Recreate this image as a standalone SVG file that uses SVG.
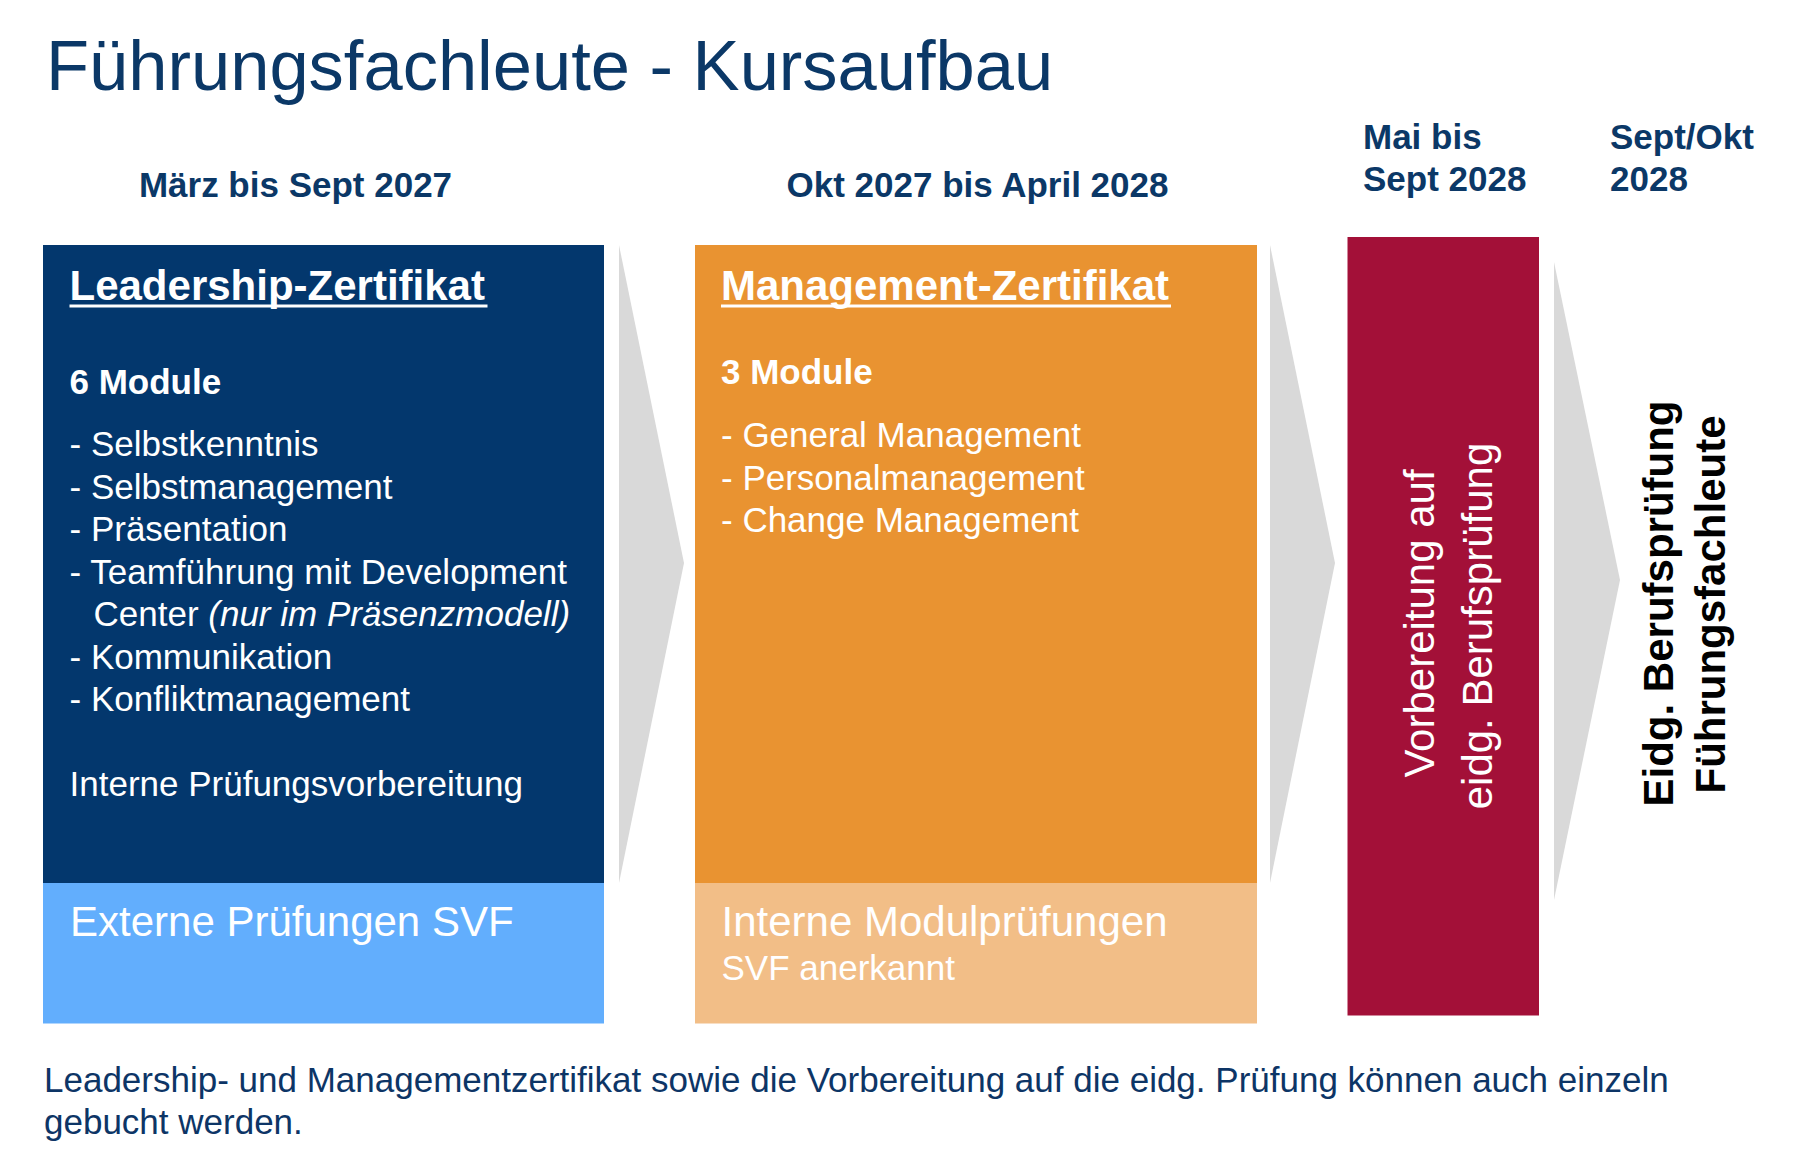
<svg xmlns="http://www.w3.org/2000/svg" width="1800" height="1164" viewBox="0 0 1800 1164">
  <style>
    text { font-family: "Liberation Sans", Arial, sans-serif; }
    .title { font-size: 70.5px; fill: #0B3867; }
    .hdr { font-size: 35px; font-weight: bold; fill: #0B3867; }
    .btitle { font-size: 42px; font-weight: bold; fill: #FFFFFF; }
    .sub { font-size: 35px; font-weight: bold; fill: #FFFFFF; }
    .item { font-size: 35px; fill: #FFFFFF; }
    .big { font-size: 42px; fill: #FFFFFF; }
    .vbold { font-size: 42px; font-weight: bold; fill: #000000; }
    .foot { font-size: 35px; fill: #0D3566; }
    .chev { fill: #D9D9D9; }
  </style>

  <rect x="0" y="0" width="1800" height="1164" fill="#FFFFFF"/>

  <g id="title">
    <text class="title" x="46" y="90">Führungsfachleute - Kursaufbau</text>
  </g>

  <g id="headers">
    <text class="hdr" x="295.5" y="197" text-anchor="middle">März bis Sept 2027</text>
    <text class="hdr" x="977.5" y="197" text-anchor="middle">Okt 2027 bis April 2028</text>
    <text class="hdr" x="1363" y="149">Mai bis</text>
    <text class="hdr" x="1363" y="191">Sept 2028</text>
    <text class="hdr" x="1610" y="149">Sept/Okt</text>
    <text class="hdr" x="1610" y="191">2028</text>
  </g>

  <g id="connectors">
    <polygon class="chev" points="619,245 684,563 619,883"/>
    <polygon class="chev" points="1270,245 1335,563 1270,883"/>
    <polygon class="chev" points="1554,262 1620,580 1554,900"/>
  </g>

  <g id="leadership">
    <rect x="43" y="245" width="561" height="638" fill="#03376D"/>
    <rect x="43" y="883" width="561" height="140.5" fill="#62AEFD"/>
    <text class="btitle" x="69.5" y="299.5">Leadership-Zertifikat</text>
    <rect x="69.5" y="304.5" width="418" height="3" fill="#FFFFFF"/>
    <text class="sub" x="69.5" y="393.5">6 Module</text>
    <text class="item" x="69.5" y="456">- Selbstkenntnis</text>
    <text class="item" x="69.5" y="498.5">- Selbstmanagement</text>
    <text class="item" x="69.5" y="541">- Präsentation</text>
    <text class="item" x="69.5" y="583.5">- Teamführung mit Development</text>
    <text class="item" x="93.5" y="626">Center <tspan font-style="italic">(nur im Präsenzmodell)</tspan></text>
    <text class="item" x="69.5" y="668.5">- Kommunikation</text>
    <text class="item" x="69.5" y="711">- Konfliktmanagement</text>
    <text class="item" x="69.5" y="796">Interne Prüfungsvorbereitung</text>
    <text class="big" x="70" y="936">Externe Prüfungen SVF</text>
  </g>

  <g id="management">
    <rect x="695" y="245" width="562" height="638" fill="#E99331"/>
    <rect x="695" y="883" width="562" height="140.5" fill="#F2BE87"/>
    <text class="btitle" x="721" y="299.5">Management-Zertifikat</text>
    <rect x="721" y="304.5" width="450" height="3" fill="#FFFFFF"/>
    <text class="sub" x="721" y="384">3 Module</text>
    <text class="item" x="721" y="447">- General Management</text>
    <text class="item" x="721" y="489.5">- Personalmanagement</text>
    <text class="item" x="721" y="532">- Change Management</text>
    <text class="big" x="721.5" y="936">Interne Modulprüfungen</text>
    <text class="item" x="721.5" y="980">SVF anerkannt</text>
  </g>

  <g id="vorbereitung">
    <rect x="1347.5" y="237" width="191.5" height="778.5" fill="#A31038"/>
    <text class="big" transform="translate(1433.5,623.5) rotate(-90)" text-anchor="middle">Vorbereitung auf</text>
    <text class="big" transform="translate(1492,626) rotate(-90)" text-anchor="middle">eidg. Berufsprüfung</text>
  </g>

  <g id="pruefung">
    <text class="vbold" transform="translate(1673,603.5) rotate(-90)" text-anchor="middle">Eidg. Berufsprüfung</text>
    <text class="vbold" transform="translate(1725,604.5) rotate(-90)" text-anchor="middle">Führungsfachleute</text>
  </g>

  <g id="footer">
    <text class="foot" x="44" y="1092">Leadership- und Managementzertifikat sowie die Vorbereitung auf die eidg. Prüfung können auch einzeln</text>
    <text class="foot" x="44" y="1134">gebucht werden.</text>
  </g>
</svg>
